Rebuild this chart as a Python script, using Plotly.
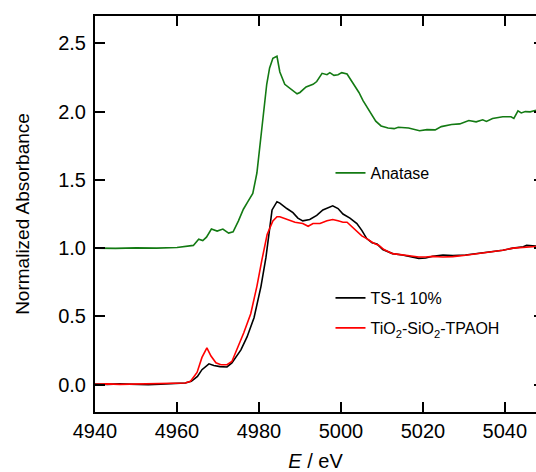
import plotly.graph_objects as go

# ---------------- data ----------------
anatase_E = [4940, 4945, 4950, 4955, 4960, 4962, 4964, 4965.3, 4966.3, 4967.2,
             4968.4, 4969.8, 4971.2, 4972.6, 4973.7, 4975.0, 4976.2, 4977.3, 4978.5, 4979.5,
             4980.2, 4981.0, 4981.9, 4982.6, 4983.4, 4984.4, 4985.1, 4986.3, 4987.6, 4988.3,
             4989.3, 4990.0, 4991.5, 4993.2, 4994.1, 4995.4, 4996.6, 4997.3, 4998.3, 4999.3,
             5000.2, 5001.5, 5003.0, 5004.4, 5005.4, 5006.8, 5008.5, 5009.8, 5011.5, 5013.0,
             5014.0, 5016.5, 5019.2, 5021.0, 5023.0, 5024.5, 5027.0, 5029.0, 5031.2, 5033.0,
             5034.6, 5035.5, 5037.0, 5039.5, 5041.5, 5042.2, 5043.2, 5044.0, 5045.0, 5046.2,
             5047.6]
anatase_A = [1.000, 0.998, 1.002, 1.000, 1.005, 1.010, 1.020, 1.065, 1.055, 1.080,
             1.140, 1.125, 1.140, 1.110, 1.120, 1.200, 1.285, 1.340, 1.400, 1.550,
             1.740, 1.960, 2.200, 2.320, 2.390, 2.405, 2.290, 2.200, 2.170, 2.160,
             2.130, 2.140, 2.180, 2.200, 2.220, 2.280, 2.270, 2.285, 2.265, 2.270,
             2.285, 2.275, 2.210, 2.140, 2.080, 2.010, 1.930, 1.895, 1.880, 1.875,
             1.885, 1.880, 1.860, 1.868, 1.866, 1.890, 1.905, 1.910, 1.935, 1.925,
             1.940, 1.928, 1.950, 1.962, 1.962, 1.950, 2.005, 1.990, 2.000, 1.998,
             2.010]

ts1_E = [4940, 4943, 4946, 4950, 4953, 4956, 4960, 4962, 4963.5, 4965,
         4966.1, 4967.8, 4969.0, 4970.5, 4972.2, 4973.4, 4975.6, 4977.1, 4978.8, 4980.5,
         4981.7, 4982.4, 4983.2, 4984.4, 4985.1, 4986.8, 4988.3, 4989.5, 4990.7, 4992.4,
         4994.1, 4995.6, 4998.0, 4999.3, 5000.5, 5002.2, 5003.9, 5005.1, 5006.3, 5007.6,
         5008.8, 5010.2, 5012.6, 5015.0, 5017.0, 5019.0, 5020.7, 5022.4, 5024.9, 5027.3,
         5030.4, 5033.0, 5035.3, 5037.0, 5039.5, 5042.0, 5044.5, 5045.3, 5047.6]
ts1_A = [0.005, 0.002, 0.006, 0.003, 0.000, 0.004, 0.008, 0.012, 0.025, 0.060,
         0.110, 0.153, 0.140, 0.132, 0.130, 0.160, 0.255, 0.350, 0.490, 0.720,
         0.930, 1.110, 1.280, 1.340, 1.330, 1.290, 1.260, 1.220, 1.200, 1.210,
         1.240, 1.280, 1.310, 1.290, 1.250, 1.220, 1.180, 1.130, 1.070, 1.040,
         1.030, 0.990, 0.960, 0.950, 0.935, 0.925, 0.928, 0.940, 0.950, 0.945,
         0.950, 0.960, 0.970, 0.975, 0.985, 1.000, 1.010, 1.020, 1.015]

tpaoh_E = [4940, 4943, 4946, 4950, 4953, 4956, 4960, 4962, 4963.3, 4964.9,
           4966.1, 4967.3, 4968.3, 4969.5, 4970.7, 4972.2, 4973.4, 4974.6, 4976.3, 4978.0,
           4979.5, 4980.7, 4982.0, 4983.4, 4984.4, 4985.1, 4986.8, 4988.8, 4990.7, 4992.0,
           4993.2, 4994.9, 4996.6, 4998.0, 4999.3, 5000.5, 5001.5, 5003.0, 5005.1, 5006.3,
           5007.8, 5009.3, 5010.5, 5012.6, 5015.0, 5017.0, 5019.0, 5020.7, 5022.4, 5024.9,
           5027.3, 5030.4, 5033.0, 5035.3, 5037.0, 5039.5, 5042.0, 5044.5, 5047.6]
tpaoh_A = [0.003, 0.006, 0.002, 0.005, 0.003, 0.006, 0.008, 0.012, 0.025, 0.090,
           0.200, 0.270, 0.210, 0.160, 0.146, 0.146, 0.170, 0.255, 0.380, 0.520,
           0.720, 0.910, 1.100, 1.200, 1.230, 1.230, 1.210, 1.190, 1.180, 1.160,
           1.180, 1.180, 1.200, 1.210, 1.200, 1.190, 1.190, 1.150, 1.090, 1.070,
           1.040, 1.020, 0.990, 0.960, 0.950, 0.940, 0.935, 0.935, 0.940, 0.935,
           0.938, 0.948, 0.958, 0.968, 0.975, 0.985, 1.000, 1.005, 1.012]

x_ticks = [4940, 4960, 4980, 5000, 5020, 5040]
y_ticks = [0.0, 0.5, 1.0, 1.5, 2.0, 2.5]
x_range = [4940, 5047.6]
y_range = [-0.2, 2.7]

names = ["Anatase", "TS-1 10%", "TiO<sub>2</sub>-SiO<sub>2</sub>-TPAOH"]
colors = ["#137a13", "#000000", "#ff0000"]

FONT = "Liberation Sans, Arial, sans-serif"

fig = go.Figure()
fig.add_trace(go.Scatter(x=anatase_E, y=anatase_A, mode="lines", name=names[0],
                         line=dict(color=colors[0], width=1.6), legend="legend",
                         showlegend=True))
fig.add_trace(go.Scatter(x=ts1_E, y=ts1_A, mode="lines", name=names[1],
                         line=dict(color=colors[1], width=1.6), legend="legend2",
                         showlegend=True))
fig.add_trace(go.Scatter(x=tpaoh_E, y=tpaoh_A, mode="lines", name=names[2],
                         line=dict(color=colors[2], width=1.6), legend="legend3",
                         showlegend=True))
# invisible helper trace so the top/right tick axes are drawn
fig.add_trace(go.Scatter(x=x_range, y=y_range, mode="lines", xaxis="x2", yaxis="y2",
                         line=dict(width=0), showlegend=False, hoverinfo="skip",
                         opacity=0))

leg_common = dict(font=dict(family=FONT, size=16, color="black"),
                  bgcolor="rgba(0,0,0,0)", xanchor="left", yanchor="middle",
                  visible=True)

def ypos(py):
    # pixel row -> paper fraction, plot area spans rows 16..412
    return 1 - (py - 16) / 396

fig.update_layout(
    width=536, height=472,
    margin=dict(l=95, r=0, t=16, b=60),
    paper_bgcolor="white", plot_bgcolor="white",
    font=dict(family=FONT, size=20, color="black"),
    showlegend=True,
    legend=dict(x=0.534, y=ypos(173), **leg_common),
    legend2=dict(x=0.534, y=ypos(298), **leg_common),
    legend3=dict(x=0.534, y=ypos(328), **leg_common),
    xaxis=dict(range=x_range, tickvals=x_ticks, ticks="inside", ticklen=10,
               tickwidth=1.5, tickcolor="black", showline=True, linecolor="black",
               linewidth=2, showgrid=False, zeroline=False, automargin=False,
               tickfont=dict(size=20),
               title=dict(text="<i>E</i> / eV", font=dict(size=20), standoff=21)),
    xaxis2=dict(range=x_range, tickvals=x_ticks, ticks="inside", ticklen=10,
                tickwidth=1.5, tickcolor="black", showline=True, linecolor="black",
                linewidth=2, showgrid=False, zeroline=False, side="top",
                overlaying="x", anchor="y", showticklabels=False, automargin=False),
    yaxis=dict(range=y_range, tickvals=y_ticks, tickformat=".1f", ticks="inside",
               ticklen=10, tickwidth=1.5, tickcolor="black", showline=True,
               linecolor="black", linewidth=2, showgrid=False, automargin=False,
               zeroline=False, tickfont=dict(size=20), ticklabelstandoff=3,
               title=dict(text="Normalized Absorbance", font=dict(size=19), standoff=24)),
    yaxis2=dict(range=y_range, tickvals=y_ticks, ticks="inside", ticklen=2,
                tickwidth=1.5, tickcolor="black", showline=False, showgrid=False,
                zeroline=False, side="right", overlaying="y", anchor="x",
                showticklabels=False, automargin=False),
)

fig.write_html("out.html", config={"displayModeBar": False},
               post_script="document.body.style.margin='0px';")
